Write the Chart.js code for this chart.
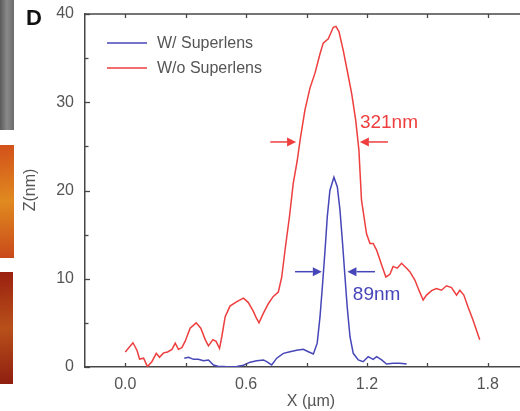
<!DOCTYPE html>
<html>
<head>
<meta charset="utf-8">
<script src="https://cdn.jsdelivr.net/npm/chart.js@4"></script>
<style>
  html, body { margin: 0; padding: 0; background: #fff; }
  #wrap { width: 520px; height: 411px; position: relative; }
</style>
</head>
<body>
<div id="wrap"><canvas id="c" width="520" height="411"></canvas></div>
<script>
// ---- data ----
const seriesLabels = ['W/ Superlens', 'W/o Superlens'];

const blueX = [0.293,0.314,0.339,0.363,0.388,0.413,0.438,0.463,0.487,0.521,0.554,0.587,0.620,0.653,0.686,0.702,0.727,0.752,0.785,0.818,0.851,0.884,0.909,0.934,0.953,0.967,0.980,0.992,1.003,1.016,1.036,1.053,1.066,1.079,1.091,1.102,1.116,1.132,1.157,1.181,1.206,1.231,1.248,1.273,1.297,1.330,1.363,1.397];
const blueZ = [1.0,1.1,0.87,0.87,0.7,0.8,0.23,0.05,0.05,0.0,0.05,0.2,0.55,0.7,0.8,0.6,0.23,1.0,1.55,1.73,1.9,2.0,1.73,1.47,2.7,5.7,9.5,13.25,17.0,20.0,21.5,20.4,17.8,14.0,10.2,6.8,3.4,1.55,0.8,0.6,1.17,0.87,1.17,0.8,0.34,0.42,0.42,0.34];

const redX = [0.000,0.038,0.058,0.071,0.091,0.110,0.132,0.154,0.170,0.190,0.210,0.232,0.248,0.264,0.281,0.297,0.322,0.352,0.375,0.397,0.413,0.435,0.451,0.468,0.479,0.496,0.520,0.554,0.587,0.611,0.636,0.650,0.664,0.686,0.711,0.735,0.760,0.777,0.793,0.815,0.834,0.854,0.868,0.892,0.917,0.942,0.967,0.983,1.008,1.033,1.046,1.061,1.082,1.102,1.124,1.144,1.160,1.173,1.198,1.215,1.231,1.248,1.273,1.294,1.314,1.330,1.350,1.372,1.397,1.413,1.438,1.459,1.479,1.496,1.521,1.545,1.570,1.595,1.620,1.645,1.661,1.681,1.702,1.727,1.760];
const redZ = [1.7,2.75,1.9,0.9,1.0,0.05,0.6,1.55,1.1,1.6,1.7,2.0,2.7,2.0,2.2,2.9,4.4,5.0,4.4,3.1,2.4,3.1,2.9,2.1,3.4,5.7,6.9,7.4,7.8,7.3,6.3,5.6,5.0,6.1,7.2,8.0,8.5,10.2,13.2,17.0,20.8,23.4,25.7,29.1,31.6,33.3,35.5,36.7,37.2,38.5,38.6,38.0,35.9,33.6,31.0,28.0,24.6,18.9,15.1,14.0,14.0,13.25,11.55,10.2,10.5,11.4,11.2,11.75,11.2,10.8,9.85,8.65,7.6,8.15,8.65,8.9,8.7,9.2,9.0,8.15,8.7,8.15,6.8,5.3,3.1];

const xTickValues = [0.0,0.3,0.6,0.9,1.2,1.5,1.8];
const xLabelValues = [0.0,0.6,1.2,1.8];
const yTickValues = [0,5,10,15,20,25,30,35,40];
const yLabelValues = [0,10,20,30,40];

const widthLabels = ['321nm', '89nm'];

// ---- styles ----
const BLUE = 'rgb(70,70,185)';
const RED = 'rgb(238,62,62)';
const AXIS = '#474747';
const TEXT = '#555';
const FONT = "'Liberation Sans', Arial, Helvetica, sans-serif";

Chart.defaults.font.family = FONT;

// annotation geometry in data units
const annot = [
  { color: RED,  z: 25.5, leftFrom: 0.72,  leftTo: 0.848, rightFrom: 1.304, rightTo: 1.165, textX: 1.165, textZ: 27.7 },
  { color: BLUE, z: 10.8, leftFrom: 0.843, leftTo: 0.976, rightFrom: 1.240, rightTo: 1.103, textX: 1.130, textZ: 8.15 }
];

function toPts(xs, ys) { return xs.map((x, i) => ({ x: x, y: ys[i] })); }

function arrow(ctx, x1, y, x2, color) {
  const dir = Math.sign(x2 - x1);
  const head = 9, hw = 4.5;
  ctx.strokeStyle = color; ctx.fillStyle = color; ctx.lineWidth = 1.5;
  ctx.beginPath(); ctx.moveTo(x1, y); ctx.lineTo(x2 - dir * head, y); ctx.stroke();
  ctx.beginPath(); ctx.moveTo(x2, y); ctx.lineTo(x2 - dir * head, y - hw); ctx.lineTo(x2 - dir * head, y + hw); ctx.closePath(); ctx.fill();
}

const decor = {
  id: 'decor',
  beforeDraw(chart) {
    const ctx = chart.ctx;
    ctx.save();
    // cropped neighbouring panel images at the left edge
    let g = ctx.createLinearGradient(0, 0, 14, 0);
    g.addColorStop(0, '#5a5a5a'); g.addColorStop(0.5, '#8a8a8a'); g.addColorStop(1, '#6a6a6a');
    ctx.fillStyle = g; ctx.fillRect(0, 0, 14, 130);
    g = ctx.createLinearGradient(0, 145, 14, 258);
    g.addColorStop(0, '#d2501a'); g.addColorStop(0.5, '#e08a20'); g.addColorStop(1, '#c9481a');
    ctx.fillStyle = g; ctx.fillRect(0, 145, 14, 113);
    g = ctx.createLinearGradient(0, 272, 14, 384);
    g.addColorStop(0, '#9a2010'); g.addColorStop(0.5, '#b8501a'); g.addColorStop(1, '#8e1e10');
    ctx.fillStyle = g; ctx.fillRect(0, 272, 13, 112);
    ctx.restore();
  },
  afterDraw(chart) {
    const ctx = chart.ctx, a = chart.chartArea;
    const xs = chart.scales.x, ys = chart.scales.y;
    ctx.save();
    // top frame line
    ctx.strokeStyle = AXIS; ctx.lineWidth = 1.5;
    ctx.beginPath(); ctx.moveTo(a.left, a.top); ctx.lineTo(a.right, a.top); ctx.stroke();
    // inward ticks
    ctx.lineWidth = 1.3;
    xTickValues.forEach(v => {
      const px = Math.round(xs.getPixelForValue(v)) + 0.5;
      ctx.beginPath(); ctx.moveTo(px, a.bottom); ctx.lineTo(px, a.bottom - 4); ctx.stroke();
      ctx.beginPath(); ctx.moveTo(px, a.top); ctx.lineTo(px, a.top + 4); ctx.stroke();
    });
    yTickValues.forEach(v => {
      const py = Math.round(ys.getPixelForValue(v)) + 0.5;
      const len = yLabelValues.includes(v) ? 5 : 3.5;
      ctx.beginPath(); ctx.moveTo(a.left, py); ctx.lineTo(a.left + len, py); ctx.stroke();
    });
    // axis titles
    ctx.fillStyle = TEXT;
    ctx.font = '16px ' + FONT;
    ctx.textAlign = 'center'; ctx.textBaseline = 'middle';
    ctx.fillText('X (\u00b5m)', 311, 402);
    ctx.save();
    ctx.translate(31, 190); ctx.rotate(-Math.PI / 2);
    ctx.fillText('Z(nm)', 0, 0);
    ctx.restore();
    // panel letter
    ctx.fillStyle = '#111';
    ctx.font = 'bold 22px ' + FONT;
    ctx.fillText('D', 34, 19);
    // legend
    const order = [0, 1];
    order.forEach((di, k) => {
      const ds = chart.data.datasets[di];
      const y = 43 + k * 25;
      ctx.strokeStyle = ds.borderColor; ctx.lineWidth = 1.6;
      ctx.beginPath(); ctx.moveTo(107, y); ctx.lineTo(147, y); ctx.stroke();
      ctx.fillStyle = TEXT; ctx.font = '16px ' + FONT;
      ctx.textAlign = 'left'; ctx.textBaseline = 'middle';
      ctx.fillText(ds.label, 157, y + 1);
    });
    // width annotations
    annot.forEach((an, i) => {
      const y = ys.getPixelForValue(an.z);
      arrow(ctx, xs.getPixelForValue(an.leftFrom), y, xs.getPixelForValue(an.leftTo), an.color);
      arrow(ctx, xs.getPixelForValue(an.rightFrom), y, xs.getPixelForValue(an.rightTo), an.color);
      ctx.fillStyle = an.color; ctx.font = '19px ' + FONT;
      ctx.textAlign = 'left'; ctx.textBaseline = 'middle';
      ctx.fillText(widthLabels[i], xs.getPixelForValue(an.textX), ys.getPixelForValue(an.textZ));
    });
    ctx.restore();
  }
};

new Chart(document.getElementById('c'), {
  type: 'scatter',
  data: {
    datasets: [
      { label: seriesLabels[0], data: toPts(blueX, blueZ), showLine: true, borderColor: BLUE, backgroundColor: BLUE, borderWidth: 1.5, pointRadius: 0, fill: false, tension: 0 },
      { label: seriesLabels[1], data: toPts(redX, redZ), showLine: true, borderColor: RED, backgroundColor: RED, borderWidth: 1.5, pointRadius: 0, fill: false, tension: 0 }
    ]
  },
  options: {
    responsive: false,
    animation: false,
    devicePixelRatio: 1,
    layout: { padding: { top: 14, right: 0, left: 0, bottom: 0 } },
    plugins: { legend: { display: false }, tooltip: { enabled: false } },
    scales: {
      x: {
        type: 'linear', min: -0.2, max: 1.96,
        afterBuildTicks: s => { s.ticks = xTickValues.map(v => ({ value: v })); },
        afterFit: s => { s.height = 44; s.paddingLeft = 0; s.paddingRight = 0; },
        ticks: {
          autoSkip: false, maxRotation: 0, padding: 0, color: TEXT, font: { size: 16 },
          callback: v => xLabelValues.some(l => Math.abs(l - v) < 1e-6) ? Number(v).toFixed(1) : ''
        },
        grid: { display: false },
        border: { display: true, color: AXIS, width: 1.5 }
      },
      y: {
        min: 0, max: 40,
        afterBuildTicks: s => { s.ticks = yTickValues.map(v => ({ value: v })); },
        afterFit: s => { s.width = 85; s.paddingTop = 0; s.paddingBottom = 0; },
        ticks: {
          autoSkip: false, padding: 3, color: TEXT, font: { size: 16 },
          callback: v => yLabelValues.includes(v) ? String(v) : ''
        },
        grid: { display: false },
        border: { display: true, color: AXIS, width: 1.5 }
      }
    }
  },
  plugins: [decor]
});
</script>
</body>
</html>
